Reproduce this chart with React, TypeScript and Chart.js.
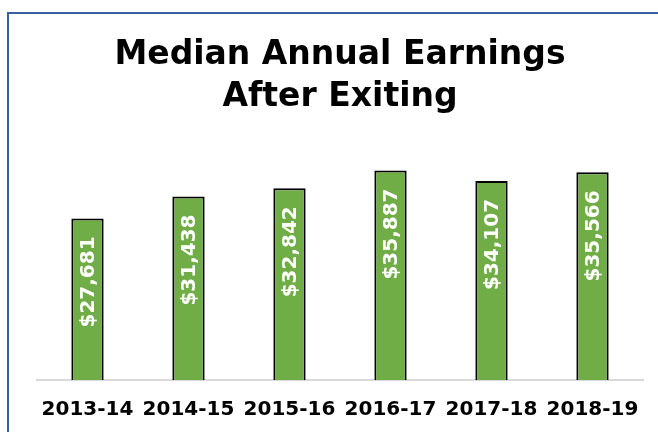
import React, { useEffect, useRef } from "react";
import { Chart, registerables } from "chart.js";

Chart.register(...registerables);

const categories: string[] = ["2013-14", "2014-15", "2015-16", "2016-17", "2017-18", "2018-19"];
const earnings: number[] = [27681, 31438, 32842, 35887, 34107, 35566];
const valueLabels: string[] = ["$27,681", "$31,438", "$32,842", "$35,887", "$34,107", "$35,566"];
const titleLines: string[] = ["Median Annual Earnings", "After Exiting"];

const FONT = "'DejaVu Sans', sans-serif";

const barLabelPlugin = {
  id: "barLabels",
  afterDatasetsDraw(chart: any) {
    const ctx = chart.ctx;
    const meta = chart.getDatasetMeta(0);
    meta.data.forEach((bar: any, i: number) => {
      ctx.save();
      ctx.translate(bar.x, bar.y + 18);
      ctx.rotate(-Math.PI / 2);
      ctx.font = `bold 20px ${FONT}`;
      ctx.fillStyle = "#ffffff";
      ctx.textAlign = "right";
      ctx.textBaseline = "middle";
      ctx.fillText(valueLabels[i], 0, 1);
      ctx.restore();
    });
  },
};

export default function App() {
  const ref = useRef<HTMLCanvasElement | null>(null);

  useEffect(() => {
    if (!ref.current) return;
    const chart = new Chart(ref.current, {
      type: "bar",
      data: {
        labels: categories,
        datasets: [
          {
            data: earnings,
            backgroundColor: "#70AD47",
            borderColor: "#000000",
            borderWidth: { top: 2, left: 2, right: 2, bottom: 0 },
            borderSkipped: false,
            categoryPercentage: 1,
            barPercentage: 0.32,
          },
        ],
      },
      options: {
        animation: false,
        responsive: true,
        maintainAspectRatio: false,
        layout: { padding: { top: 15, left: 37, right: 15, bottom: 10 } },
        plugins: {
          legend: { display: false },
          tooltip: { enabled: false },
          title: {
            display: true,
            text: titleLines,
            color: "#000000",
            font: { family: FONT, size: 33, weight: "bold", lineHeight: 1.28 },
            padding: { top: 19, bottom: 28 },
          },
        },
        scales: {
          x: {
            grid: { display: false, drawTicks: false },
            border: { display: true, color: "#D9D9D9", width: 2 },
            ticks: {
              color: "#000000",
              font: { family: FONT, size: 20, weight: "bold" },
              padding: 18,
              maxRotation: 0,
              autoSkip: false,
            },
            afterFit: (scale: any) => {
              scale.height = 42;
            },
          },
          y: {
            display: false,
            min: 0,
            max: 40000,
          },
        },
      },
      plugins: [barLabelPlugin],
    });
    return () => chart.destroy();
  }, []);

  return (
    <div style={{ position: "absolute", left: 0, top: 0, width: 658, height: 432, background: "#ffffff", overflow: "hidden" }}>
      <div
        style={{
          position: "absolute",
          left: 7,
          top: 12,
          width: 700,
          height: 500,
          borderTop: "2px solid #3A5FA0",
          borderLeft: "2px solid #3A5FA0",
        }}
      />
      <div style={{ position: "absolute", left: 0, top: 0, width: 658, height: 432 }}>
        <canvas ref={ref} />
      </div>
    </div>
  );
}
